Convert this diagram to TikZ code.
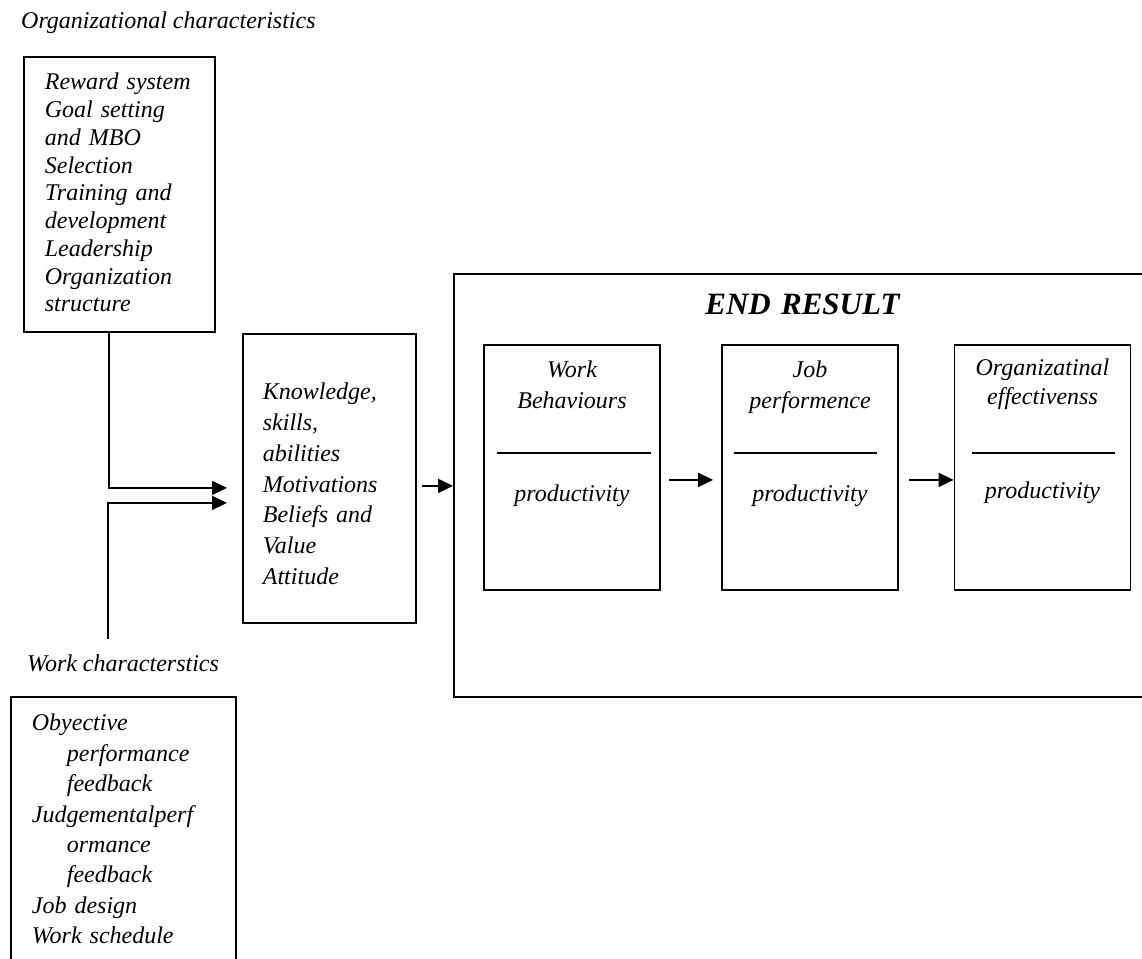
\documentclass[tikz,border=0pt]{standalone}
\usepackage{fontspec}
\setmainfont{Liberation Serif}
\usetikzlibrary{arrows.meta}

\tikzset{
  listbox/.style = {draw, line width=1.8pt, inner ysep=0pt, align=left, anchor=north west},
  stage/.style   = {draw, line width=1.8pt, inner ysep=0pt, inner xsep=8pt, text width=160pt,
                    align=center, anchor=north, text height=33pt, text depth=212pt,
                    font=\itshape\fontsize{24}{31}\selectfont},
  headtxt/.style = {anchor=base west, inner sep=0pt, font=\itshape\fontsize{24}{29}\selectfont},
  conn/.style    = {line width=1.8pt, -{Triangle[length=15pt,width=14pt]}},
  divider/.style = {line width=1.8pt},
}

\begin{document}
\begin{tikzpicture}[x=1pt, y=-1pt]
            \useasboundingbox (0,0) rectangle (1142,958);
            % left column
            \node[headtxt] (orgchar) at ( 21, 29) {Organizational characteristics};
            \node[listbox, inner xsep=21pt, text width=149pt, text height=33pt, text depth=242pt,
                  font=\itshape\fontsize{24}{27.75}\selectfont] (orgbox) at ( 23, 56)
                 {Reward system\\Goal setting\\and MBO\\Selection\\Training and\\development\\Leadership\\Organization\\structure};
            \node[headtxt] (workchar) at ( 27,671) {Work characterstics};
            \node[listbox, inner xsep=21pt, text width=183pt, text height=34pt, text depth=240pt,
                  font=\itshape\fontsize{24}{30.4}\selectfont] (workbox) at ( 10,696)
                 {Obyective\\\hspace*{35pt}performance\\\hspace*{35pt}feedback\\Judgementalperf\\\hspace*{35pt}ormance\\\hspace*{35pt}feedback\\Job design\\Work schedule};
            % middle
            \node[listbox, inner xsep=20pt, text width=133pt, text height=66pt, text depth=223pt,
                  font=\itshape\fontsize{24}{30.7}\selectfont] (kasbox) at (242,333)
                 {Knowledge,\\skills,\\abilities\\Motivations\\Beliefs and\\Value\\Attitude};
            % end result
            \node[draw, line width=1.8pt, anchor=north west, inner sep=0pt, text width=697pt, align=center,
                  text height=41pt, text depth=382pt,
                  font=\bfseries\itshape\fontsize{31}{37}\selectfont] (resultbox) at (453,273) {END RESULT};
            \node[stage] (wb) at ( 572.0,344) {Work\\Behaviours\\[62pt]productivity};
            \node[stage] (jp) at ( 810.0,344) {Job\\performence\\[62pt]productivity};
            \node[stage, text height=31pt, text depth=214pt, font=\itshape\fontsize{24}{29}\selectfont]
                 (oe) at (1042.5,344) {Organizatinal\\effectivenss\\[65pt]productivity};
            \draw[divider] (497,453) -- (651,453);
            \draw[divider] (734,453) -- (877,453);
            \draw[divider] (972,453) -- (1115,453);
            % connectors
            \draw[conn, shorten >=15pt] ([xshift=-10.5pt]orgbox.south) |- ([yshift=-9.5pt]kasbox.west);
            \draw[conn, shorten >=15pt] ([xshift=-15pt,yshift=15pt]workchar.north) |- ([yshift=-24.5pt]kasbox.west);
            \draw[conn, shorten <=5pt] ([yshift=-7.5pt]kasbox.east) -- ([yshift=-7.5pt]kasbox.east -| resultbox.west);
            \draw[conn, shorten <=8pt, shorten >=8pt] ([yshift=-12.5pt]wb.east) -- ([yshift=-12.5pt]jp.west);
            \draw[conn, shorten <=10pt] ([yshift=-12.5pt]jp.east) -- ([yshift=-12.5pt]oe.west);
        \end{tikzpicture}
\end{document}
